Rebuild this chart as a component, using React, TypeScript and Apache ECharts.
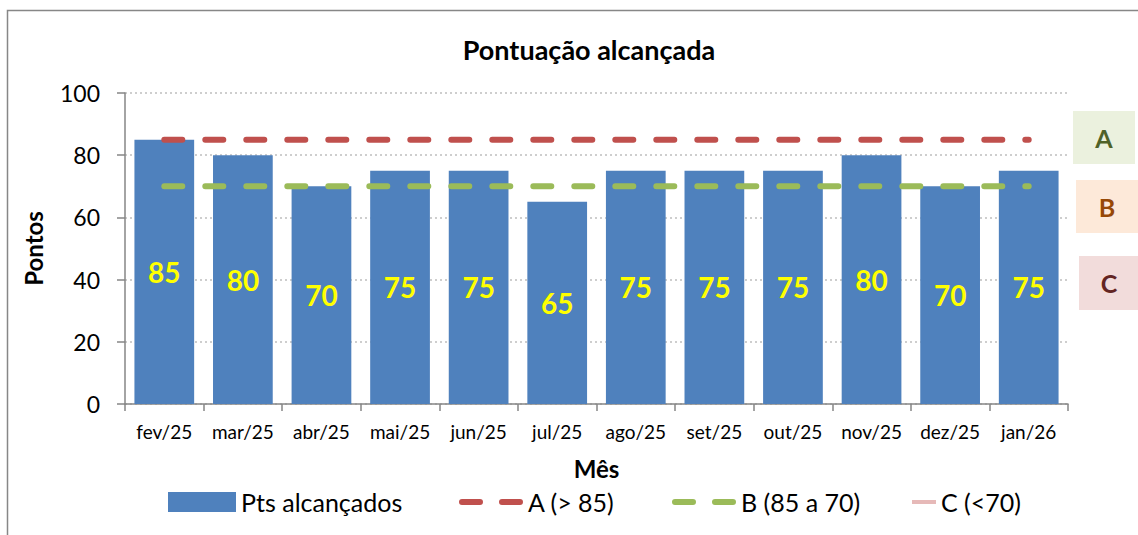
import React, { useEffect, useRef } from "react";
import * as echarts from "echarts";

const months = ["fev/25", "mar/25", "abr/25", "mai/25", "jun/25", "jul/25", "ago/25", "set/25", "out/25", "nov/25", "dez/25", "jan/26"];
const ptsAlcancados = [85, 80, 70, 75, 75, 65, 75, 75, 75, 80, 70, 75];
const limiteA = [85, 85, 85, 85, 85, 85, 85, 85, 85, 85, 85, 85];
const limiteB = [70, 70, 70, 70, 70, 70, 70, 70, 70, 70, 70, 70];
const limiteC: (number | null)[] = [];
const yTicks = { min: 0, max: 100, interval: 20 };
const seriesNames = ["Pts alcançados", "A (> 85)", "B (85 a 70)", "C (<70)"];
const gradeBoxes = [
  { label: "A", x: 1073, y: 111, w: 62, h: 53, fill: "#EBF1DE", color: "#4F6228" },
  { label: "B", x: 1076, y: 180, w: 62, h: 53, fill: "#FDE9D9", color: "#974806" },
  { label: "C", x: 1079, y: 256, w: 60, h: 54, fill: "#F2DCDB", color: "#632523" },
];

const FONT = "Lato, 'Open Sans', sans-serif";
const DASH_ICON =
  "path://M3,0h18a3,3 0 0 1 0,6h-18a3,3 0 0 1 0,-6z M43,0h18a3,3 0 0 1 0,6h-18a3,3 0 0 1 0,-6z";

export default function App() {
  const ref = useRef<HTMLDivElement>(null);
  useEffect(() => {
    if (!ref.current) return;
    const chart = echarts.init(ref.current, null, { renderer: "svg" });
    const legendText = { fontFamily: FONT, fontSize: 25, color: "#000", lineHeight: 26 };
    const legendBase = { padding: 0, top: 489, textStyle: legendText, selectedMode: false };
    chart.setOption({
      animation: false,
      textStyle: { fontFamily: FONT },
      title: {
        text: "Pontuação alcançada",
        left: 584,
        top: 31,
        textAlign: "center",
        textStyle: { fontFamily: FONT, fontSize: 27, fontWeight: "bold", color: "#000" },
      },
      grid: { left: 125, right: 70, top: 93, bottom: 131, containLabel: false },
      legend: [
        { ...legendBase, data: [{ name: seriesNames[0], icon: "rect" }], left: 168, itemWidth: 68, itemHeight: 20 },
        { ...legendBase, data: [{ name: seriesNames[1], icon: DASH_ICON }], left: 459, itemWidth: 64, itemHeight: 6 },
        { ...legendBase, data: [{ name: seriesNames[2], icon: DASH_ICON }], left: 672, itemWidth: 64, itemHeight: 6 },
        { ...legendBase, data: [{ name: seriesNames[3], icon: "rect" }], left: 912, itemWidth: 24, itemHeight: 4 },
      ],
      xAxis: {
        type: "category",
        data: months,
        name: "Mês",
        nameLocation: "middle",
        nameGap: 52,
        nameTextStyle: { fontFamily: FONT, fontSize: 24, fontWeight: "bold", color: "#000" },
        axisLine: { lineStyle: { color: "#868686", width: 1.5 } },
        axisTick: { show: true, interval: 0, alignWithLabel: false, length: 7, lineStyle: { color: "#868686", width: 1.5 } },
        axisLabel: { interval: 0, fontFamily: FONT, fontSize: 19, color: "#000", margin: 18 },
      },
      yAxis: {
        type: "value",
        min: yTicks.min,
        max: yTicks.max,
        interval: yTicks.interval,
        name: "Pontos",
        nameLocation: "middle",
        nameRotate: 90,
        nameGap: 80,
        nameTextStyle: { fontFamily: FONT, fontSize: 24, fontWeight: "bold", color: "#000" },
        axisLine: { show: true, lineStyle: { color: "#868686", width: 1.5 } },
        axisTick: { show: true, length: 8, lineStyle: { color: "#868686", width: 1.5 } },
        axisLabel: { fontFamily: FONT, fontSize: 23, color: "#000", margin: 25 },
        splitLine: { show: true, lineStyle: { color: "#BFBFBF", width: 1.5, type: [2, 3] } },
      },
      series: [
        {
          name: seriesNames[0],
          type: "bar",
          data: ptsAlcancados,
          barCategoryGap: "24%",
          itemStyle: { color: "#4F81BD" },
          label: {
            show: true,
            position: "inside",
            color: "#FFFF00",
            fontFamily: FONT,
            fontSize: 28,
            fontWeight: "bold",
          },
          z: 1,
        },
        {
          name: seriesNames[1],
          type: "line",
          data: limiteA,
          symbol: "none",
          lineStyle: { color: "#C0504D", width: 6, type: [18, 23], cap: "round" },
          itemStyle: { color: "#C0504D" },
          z: 3,
        },
        {
          name: seriesNames[2],
          type: "line",
          data: limiteB,
          symbol: "none",
          lineStyle: { color: "#9BBB59", width: 6, type: [18, 23], cap: "round" },
          itemStyle: { color: "#9BBB59" },
          z: 3,
        },
        {
          name: seriesNames[3],
          type: "line",
          data: limiteC,
          symbol: "none",
          lineStyle: { color: "#E6B9B8", width: 5 },
          itemStyle: { color: "#E6B9B8" },
          z: 3,
        },
      ],
      graphic: [
        {
          type: "rect",
          shape: { x: 7.5, y: 10.5, width: 1300, height: 700 },
          style: { fill: "none", stroke: "#878787", lineWidth: 1.5 },
          silent: true,
        },
        ...gradeBoxes.map((b) => ({
          type: "group",
          children: [
            { type: "rect", shape: { x: b.x, y: b.y, width: b.w, height: b.h }, style: { fill: b.fill } },
            {
              type: "text",
              x: b.x + b.w / 2,
              y: b.y + b.h / 2,
              style: {
                text: b.label,
                fill: b.color,
                font: `bold 25px ${FONT}`,
                align: "center",
                verticalAlign: "middle",
              },
            },
          ],
        })),
      ],
    });
    return () => chart.dispose();
  }, []);
  return (
    <div
      ref={ref}
      style={{ position: "absolute", left: 0, top: 0, width: 1138, height: 535, background: "#fff" }}
    />
  );
}
